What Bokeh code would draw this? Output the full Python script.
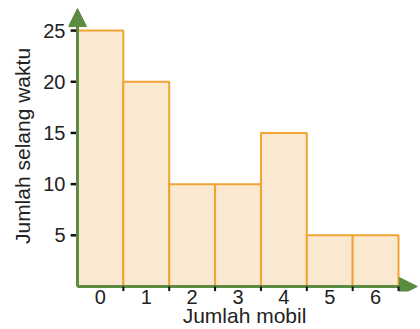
from bokeh.plotting import figure
from bokeh.models import Range1d, FixedTicker, Arrow, NormalHead
from bokeh.embed import file_html
from bokeh.resources import INLINE

# Data
mobil = [0, 1, 2, 3, 4, 5, 6]
frekuensi = [25, 20, 10, 10, 15, 5, 5]
y_ticks = [5, 10, 15, 20, 25]
x_labels = {m: str(m) for m in mobil}

GREEN = "#5B8C41"
FILL = "#FBE8D1"
EDGE = "#F0A434"
FONT = "Liberation Sans"

x0 = mobil[0] - 0.5
x1 = mobil[-1] + 0.5

p = figure(width=420, height=329, output_backend="svg", toolbar_location=None,
           x_range=Range1d(x0 - 0.196, x1 + 0.479), y_range=Range1d(-0.49, 27.94),
           min_border_left=68, min_border_right=0, min_border_top=0, min_border_bottom=0)
p.outline_line_color = None
p.xgrid.visible = False
p.ygrid.visible = False
p.background_fill_color = "white"

p.vbar(x=mobil, top=frekuensi, width=1, bottom=0,
       fill_color=FILL, line_color=EDGE, line_width=2)

# axes with arrows
p.add_layout(Arrow(end=NormalHead(size=18, fill_color=GREEN, line_color=GREEN),
                   x_start=x0, y_start=0, x_end=x1 + 0.41, y_end=0,
                   line_color=GREEN, line_width=3))
p.add_layout(Arrow(end=NormalHead(size=18, fill_color=GREEN, line_color=GREEN),
                   x_start=x0, y_start=0, x_end=x0, y_end=27.15,
                   line_color=GREEN, line_width=3))

# tick marks
bounds = [m + 0.5 for m in mobil]
p.segment(x0=bounds, y0=[0] * len(bounds), x1=bounds, y1=[-0.45] * len(bounds),
          line_color="#111111", line_width=2, level="overlay")
p.segment(x0=[x0 - 0.15] * len(y_ticks), y0=y_ticks, x1=[x0 - 0.03] * len(y_ticks), y1=y_ticks,
          line_color="#111111", line_width=2.5, level="overlay")

for ax in (p.xaxis, p.yaxis):
    ax.axis_line_color = None
    ax.major_tick_line_color = None
    ax.minor_tick_line_color = None
    ax.major_tick_out = 0
    ax.major_tick_in = 0
    ax.major_label_text_font = FONT
    ax.major_label_text_font_size = "20px"
    ax.major_label_text_color = "#222222"
    ax.axis_label_text_font = FONT
    ax.axis_label_text_font_size = "21px"
    ax.axis_label_text_font_style = "normal"
    ax.axis_label_text_color = "#222222"

p.xaxis.ticker = FixedTicker(ticks=mobil)
p.xaxis.major_label_overrides = x_labels
p.xaxis.major_label_standoff = -2
p.xaxis.axis_label = "Jumlah mobil"
p.xaxis.axis_label_standoff = -3

p.yaxis.ticker = FixedTicker(ticks=y_ticks)
p.yaxis.major_label_standoff = 3
p.yaxis.axis_label = "Jumlah selang waktu"
p.yaxis.axis_label_standoff = 6

open("out.html", "w").write(file_html(p, INLINE))
